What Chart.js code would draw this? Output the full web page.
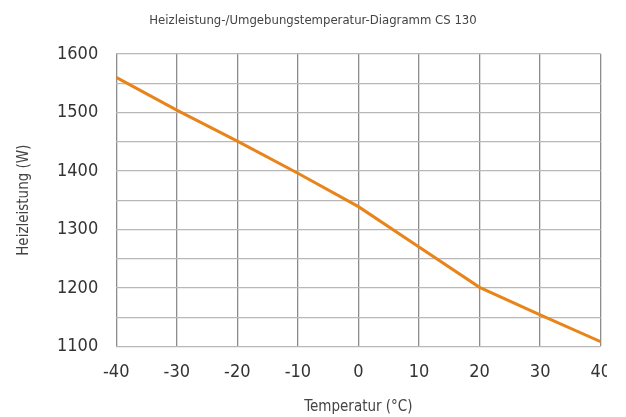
<!DOCTYPE html>
<html>
<head>
<meta charset="utf-8">
<script src="https://cdn.jsdelivr.net/npm/chart.js@4"></script>
<style>
html,body{margin:0;padding:0;background:#fff;}
#wrap{width:607px;height:417px;overflow:hidden;}
#box{width:626px;height:417px;}
</style>
</head>
<body>
<div id="wrap"><div id="box"><canvas id="c" width="626" height="417"></canvas></div></div>
<script>
const temperatures = [-40, -30, -20, -10, 0, 10, 20, 30, 40];
const heatOutput = [1560, 1504, 1451, 1396, 1339, 1270, 1201, 1154, 1108];
const titleText = 'Heizleistung-/Umgebungstemperatur-Diagramm CS 130';
const xTitle = 'Temperatur (°C)';
const yTitle = 'Heizleistung (W)';
const FONT = "'Liberation Sans Narrow', 'Arial Narrow', 'DejaVu Sans Condensed', sans-serif";

const centerTitle = {
  id: 'centerTitle',
  afterDraw(chart) {
    const ctx = chart.ctx;
    ctx.save();
    ctx.font = "normal 13px " + FONT;
    ctx.fillStyle = '#444';
    ctx.textAlign = 'center';
    ctx.textBaseline = 'middle';
    ctx.fillText(titleText, 313, 21);
    ctx.restore();
  }
};

new Chart(document.getElementById('c'), {
  type: 'line',
  data: {
    datasets: [{
      data: temperatures.map((t, i) => ({x: t, y: heatOutput[i]})),
      borderColor: '#e8841a',
      borderWidth: 3,
      pointRadius: 0,
      tension: 0,
      fill: false
    }]
  },
  plugins: [centerTitle],
  options: {
    responsive: false,
    animation: false,
    devicePixelRatio: 1,
    layout: {padding: {left: 15, right: 23, top: 54, bottom: 1}},
    plugins: {
      legend: {display: false},
      tooltip: {enabled: false},
      title: {display: false}
    },
    scales: {
      x: {
        type: 'linear',
        min: -40, max: 40,
        ticks: {stepSize: 10, color: '#333', font: {family: FONT, size: 18}, padding: 15},
        grid: {color: '#8c8c8c', lineWidth: 1.3, drawTicks: false},
        border: {display: false},
        title: {display: true, text: xTitle, color: '#444', font: {family: FONT, size: 15}, padding: {top: 0, bottom: 0}}
      },
      y: {
        min: 1100, max: 1600,
        ticks: {
          stepSize: 50, color: '#333', font: {family: FONT, size: 18}, padding: 18,
          callback: v => (v % 100 === 0 ? v : '')
        },
        grid: {color: '#b8b8b8', lineWidth: 1.3, drawTicks: false},
        border: {display: false},
        title: {display: true, text: yTitle, color: '#444', font: {family: FONT, size: 15}, padding: {top: 0, bottom: 6}}
      }
    }
  }
});
</script>
</body>
</html>
